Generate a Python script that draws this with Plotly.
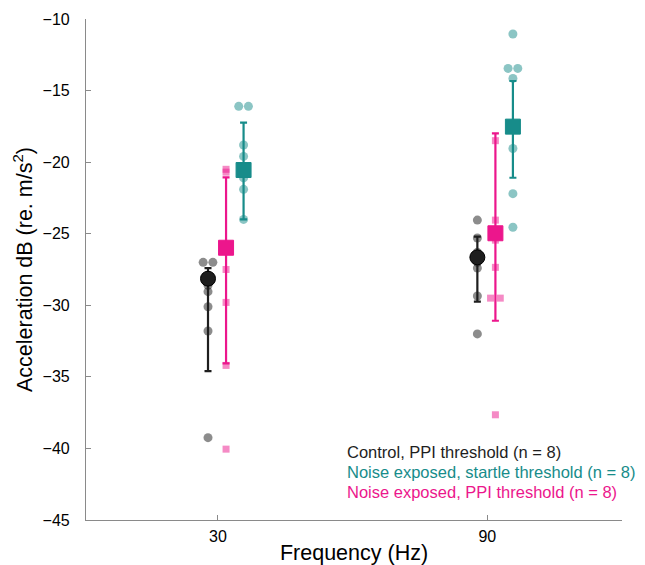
import plotly.graph_objects as go

# ---- data ----
freq_labels = ["30", "90"]
freq_pos = [0, 1]

control_30 = [-27.0, -27.0, -28.2, -28.6, -29.05, -30.1, -31.8, -39.25]
control_90 = [-24.05, -25.3, -26.3, -26.8, -27.4, -27.0, -29.35, -32.0]
teal_30 = [-16.1, -16.1, -18.8, -19.6, -20.4, -21.1, -21.9, -24.0]
teal_90 = [-11.05, -13.45, -13.45, -14.15, -17.6, -19.05, -22.2, -24.55]
pink_30 = [-20.5, -20.7, -25.8, -26.2, -27.5, -29.8, -34.2, -40.05]
pink_90 = [-18.5, -24.05, -25.0, -25.45, -27.35, -29.5, -29.5, -37.65]

control_mean = [-28.14, -26.65]
control_err_up = [0.73, 1.45]
control_err_down = [6.46, 3.10]
teal_mean = [-20.55, -17.52]
teal_err_up = [3.31, 3.19]
teal_err_down = [3.45, 3.57]
pink_mean = [-25.98, -24.97]
pink_err_up = [4.92, 6.98]
pink_err_down = [8.08, 6.11]

legend_labels = [
    "Control, PPI threshold (n = 8)",
    "Noise exposed, startle threshold (n = 8)",
    "Noise exposed, PPI threshold (n = 8)",
]

# ---- styles ----
BLACK = "#1e1e1e"
TEAL = "#178c8a"
PINK = "#ec168c"
FONT = "Arial, Liberation Sans, sans-serif"

series = [
    dict(ind=[control_30, control_90], mean=control_mean, up=control_err_up, dn=control_err_down,
         color=BLACK, ind_color="rgba(0,0,0,0.45)", off=-0.037, sym="circle", ind_sym="circle",
         ind_size=9, mean_size=15),
    dict(ind=[pink_30, pink_90], mean=pink_mean, up=pink_err_up, dn=pink_err_down,
         color=PINK, ind_color="rgba(236,22,140,0.5)", off=0.03, sym="square", ind_sym="square",
         ind_size=7, mean_size=15),
    dict(ind=[teal_30, teal_90], mean=teal_mean, up=teal_err_up, dn=teal_err_down,
         color=TEAL, ind_color="rgba(23,140,138,0.5)", off=0.095, sym="square", ind_sym="circle",
         ind_size=9, mean_size=15),
]

JIT = 0.018

fig = go.Figure()

# individual points
for s in series:
    xs, ys = [], []
    for fi, vals in enumerate(s["ind"]):
        seen = {}
        for v in vals:
            seen[v] = seen.get(v, 0) + 1
        used = {}
        for v in vals:
            n = seen[v]
            k = used.get(v, 0)
            used[v] = k + 1
            j = 0.0 if n == 1 else (k - (n - 1) / 2) * 2 * JIT
            xs.append(freq_pos[fi] + s["off"] + j)
            ys.append(v)
    fig.add_trace(go.Scatter(
        x=xs, y=ys, mode="markers", showlegend=False, hoverinfo="y",
        marker=dict(symbol=s["ind_sym"], size=s["ind_size"], color=s["ind_color"],
                    line=dict(width=0)),
    ))

# means with error bars
for s in series:
    fig.add_trace(go.Scatter(
        x=[p + s["off"] for p in freq_pos], y=s["mean"], mode="markers", showlegend=False,
        marker=dict(symbol=s["sym"], size=s["mean_size"], color=s["color"],
                    line=dict(width=1, color="#000000" if s["color"] == BLACK else s["color"])),
        error_y=dict(type="data", symmetric=False, array=s["up"], arrayminus=s["dn"],
                     color=s["color"], thickness=2.2, width=3.5),
    ))

# text legend
leg_colors = [BLACK, TEAL, PINK]
leg_y = [0.136, 0.095, 0.056]
for txt, c, yy in zip(legend_labels, leg_colors, leg_y):
    fig.add_annotation(text=txt, x=0.483, y=yy, xref="paper", yref="paper",
                       xanchor="left", yanchor="middle", showarrow=False,
                       font=dict(family=FONT, size=16.5, color=c))

fig.update_layout(
    width=645, height=565,
    margin=dict(l=86, r=23, t=19, b=45),
    paper_bgcolor="white", plot_bgcolor="white",
    font=dict(family=FONT, color="black"),
    showlegend=False,
)
fig.update_xaxes(
    range=[-0.49, 1.5], tickvals=freq_pos, ticktext=freq_labels, automargin=False,
    showgrid=False, zeroline=False, showline=True, linecolor="#8a8a8a", linewidth=1.2,
    ticks="inside", ticklen=5, tickcolor="#8a8a8a", tickfont=dict(size=16),
    ticklabelstandoff=2,
    title=dict(text="Frequency (Hz)", font=dict(size=21.5), standoff=0),
)
fig.update_yaxes(
    range=[-45, -10], tickvals=[-45, -40, -35, -30, -25, -20, -15, -10], automargin=False,
    showgrid=False, zeroline=False, showline=True, linecolor="#8a8a8a", linewidth=1.2,
    ticks="inside", ticklen=5, tickcolor="#8a8a8a", tickfont=dict(size=16),
    ticklabelstandoff=12,
    title=dict(text="Acceleration dB (re. m/s<sup>2</sup>)", font=dict(size=21.5), standoff=4),
)

fig.write_html("out.html")
